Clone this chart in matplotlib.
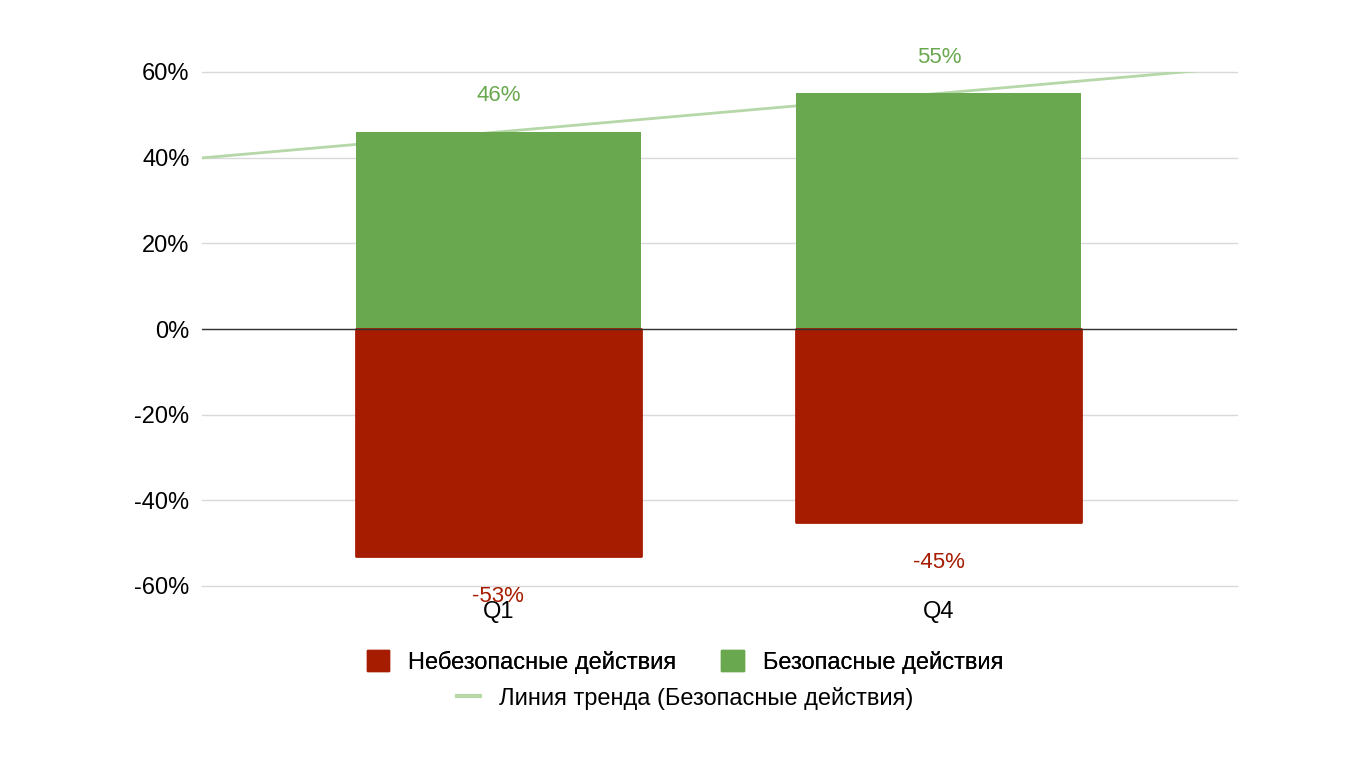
import matplotlib
matplotlib.use("Agg")
import matplotlib.pyplot as plt
import numpy as np
from matplotlib.lines import Line2D
from matplotlib.patches import Patch

categories = ["Q1", "Q4"]
unsafe = [-53, -45]
safe = [46, 55]
yticks = [-60, -40, -20, 0, 20, 40, 60]

red = "#a61c00"
green = "#6aa84f"
trend_c = "#b6d7a8"

plt.rcParams['font.family'] = ['Liberation Sans', 'DejaVu Sans']

fig = plt.figure(figsize=(13.7, 7.7), dpi=100)
ax = fig.add_axes([202/1370, 184/770, 1035/1370, 514/770])

x = np.arange(len(categories))
w = 0.647

# trend line (linear fit of safe values), drawn behind bars
coef = np.polyfit(x, safe, 1)
xt = np.linspace(-0.7, 1.7, 200)
ax.plot(xt, np.polyval(coef, xt), color=trend_c, lw=2, zorder=1)

ax.bar(x, safe, width=w, color=green, zorder=2)
ax.bar(x, unsafe, width=w, color=red, edgecolor=red, lw=2, joinstyle="round", zorder=2)

for xi, v in zip(x, safe):
    ax.text(xi, v + 8.5, f"{v}%", ha="center", va="center", color=green, fontsize=16, clip_on=False)
for xi, v in zip(x, unsafe):
    ax.text(xi, v - 9.5, f"{v}%", ha="center", va="center", color=red, fontsize=16, clip_on=False)

ax.set_xlim(-0.673, 1.677)
ax.set_ylim(-60, 60)
ax.set_yticks(yticks)
ax.set_yticklabels([f"{t}%" for t in yticks], fontsize=17)
ax.set_xticks(x)
ax.set_xticklabels(categories, fontsize=17)
ax.tick_params(axis="y", length=0, pad=9)
ax.tick_params(axis="x", length=0, pad=11)
for s in ax.spines.values():
    s.set_visible(False)
ax.grid(axis="y", color="#d9d9d9", lw=1, zorder=0)
for gl in ax.get_ygridlines():
    gl.set_clip_on(False)
ax.axhline(0, color="#333333", lw=1, zorder=3)
ax.set_axisbelow(True)

h1 = [Patch(color=red, label="Небезопасные действия"),
      Patch(color=green, label="Безопасные действия")]
leg1 = fig.legend(handles=h1, loc="center", bbox_to_anchor=(0.5, (770-662)/770),
                  ncol=2, frameon=False, fontsize=17, handlelength=0.95, handleheight=0.95,
                  columnspacing=1.9, handletextpad=0.8)
h2 = [Line2D([0], [0], color=trend_c, lw=3, label="Линия тренда (Безопасные действия)")]
fig.legend(handles=h2, loc="center", bbox_to_anchor=(0.5, (770-698)/770),
           frameon=False, fontsize=17, handlelength=1.0, handletextpad=0.8)
fig.add_artist(leg1)

fig.savefig("out.png", dpi=100)
